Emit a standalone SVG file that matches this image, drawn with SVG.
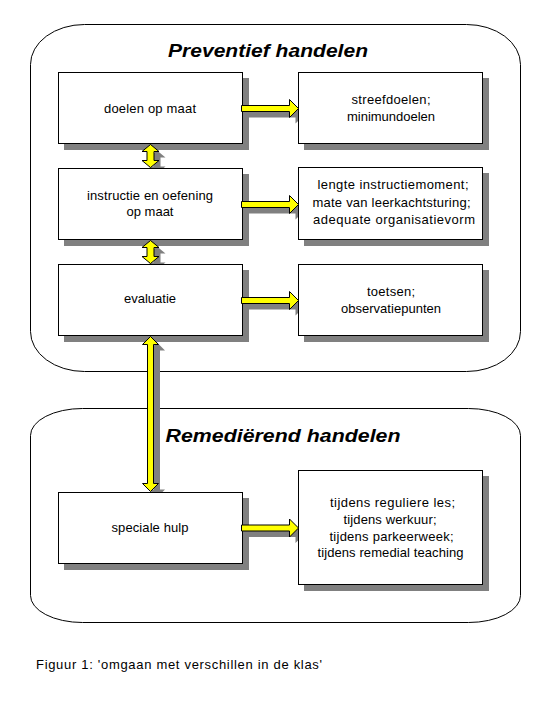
<svg xmlns="http://www.w3.org/2000/svg" width="545" height="709" viewBox="0 0 545 709">
<style>
.frame{fill:none;stroke:#000;stroke-width:1}
.box{fill:#fff;stroke:#000;stroke-width:1}
.shadow{fill:#808080;stroke:none}
.arrow{fill:#ffff00;stroke:#000;stroke-width:1;stroke-linejoin:miter}
.t{font-family:"Liberation Sans",Arial,sans-serif;font-size:13px;fill:#000;text-anchor:middle}
.title{font-family:"Liberation Sans",Arial,sans-serif;font-size:19px;font-weight:bold;font-style:italic;fill:#000;text-anchor:middle}
.cap{font-family:"Liberation Sans",Arial,sans-serif;font-size:13px;fill:#000}
</style>
<defs>
<path id="harrow" d="M0,-3 H48 V-9 L57,0 L48,9 V3 H0 Z"/>
<path id="vsmall" d="M0,0.5 L8.5,7.5 H3.5 V16.5 H8.5 L0,23.5 L-8.5,16.5 H-3.5 V7.5 H-8.5 Z"/>
<path id="vbig" d="M0,0.5 L8,8.5 H3 V147.5 H8 L0,155.5 L-8,147.5 H-3 V8.5 H-8 Z"/>
</defs>
<rect width="545" height="709" fill="#fff"/>
<g id="frames">
<rect id="preventief" class="frame" x="30.5" y="24.5" width="490" height="347" rx="54" ry="40"/>
<rect id="remedierend" class="frame" x="30.5" y="408.5" width="490" height="214" rx="52" ry="27"/>
<text class="title" x="268" y="57" textLength="200" lengthAdjust="spacingAndGlyphs">Preventief handelen</text>
<text class="title" x="283" y="442" textLength="235" lengthAdjust="spacingAndGlyphs">Remediërend handelen</text>
</g>
<g id="shadows">
<rect class="shadow" x="64" y="78" width="185" height="72"/>
<rect class="shadow" x="64" y="174" width="185" height="72"/>
<rect class="shadow" x="64" y="270" width="185" height="72"/>
<rect class="shadow" x="64" y="498" width="185" height="72"/>
<rect class="shadow" x="304" y="78" width="185" height="72"/>
<rect class="shadow" x="304" y="173" width="185" height="73"/>
<rect class="shadow" x="304" y="270" width="185" height="72"/>
<rect class="shadow" x="304" y="476" width="185" height="115"/>
<use href="#harrow" class="shadow" transform="translate(247.5,114.5)"/>
<use href="#harrow" class="shadow" transform="translate(247.5,210.5)"/>
<use href="#harrow" class="shadow" transform="translate(247.5,306.5)"/>
<use href="#harrow" class="shadow" transform="translate(247.5,534)"/>
<use href="#vsmall" class="shadow" transform="translate(157,150)"/>
<use href="#vsmall" class="shadow" transform="translate(157,246)"/>
<use href="#vbig" class="shadow" transform="translate(157,342)"/>
</g>
<g id="doelen-op-maat">
<rect class="box" x="58.5" y="72.5" width="184" height="71"/>
<text class="t" x="150" y="113" textLength="92">doelen op maat</text>
</g>
<g id="instructie">
<rect class="box" x="58.5" y="168.5" width="184" height="71"/>
<text class="t" x="150" y="200" textLength="126">instructie en oefening</text>
<text class="t" x="150" y="216">op maat</text>
</g>
<g id="evaluatie">
<rect class="box" x="58.5" y="264.5" width="184" height="71"/>
<text class="t" x="150" y="303">evaluatie</text>
</g>
<g id="speciale-hulp">
<rect class="box" x="58.5" y="492.5" width="184" height="71"/>
<text class="t" x="150" y="532" textLength="77">speciale hulp</text>
</g>
<g id="streefdoelen">
<rect class="box" x="298.5" y="72.5" width="184" height="71"/>
<text class="t" x="391" y="104" textLength="79">streefdoelen;</text>
<text class="t" x="391" y="121" textLength="88">minimundoelen</text>
</g>
<g id="lengte">
<rect class="box" x="298.5" y="167.5" width="184" height="72"/>
<text class="t" x="393" y="189" textLength="151">lengte instructiemoment;</text>
<text class="t" x="391.5" y="206.5" textLength="158">mate van leerkachtsturing;</text>
<text class="t" x="394" y="224" textLength="162">adequate organisatievorm</text>
</g>
<g id="toetsen">
<rect class="box" x="298.5" y="264.5" width="184" height="71"/>
<text class="t" x="391" y="296" textLength="48">toetsen;</text>
<text class="t" x="391" y="313" textLength="100">observatiepunten</text>
</g>
<g id="tijdens">
<rect class="box" x="298.5" y="470.5" width="184" height="114"/>
<text class="t" x="392.5" y="506.5" textLength="125">tijdens reguliere les;</text>
<text class="t" x="390" y="523.5" textLength="93">tijdens werkuur;</text>
<text class="t" x="391.5" y="540.5" textLength="124">tijdens parkeerweek;</text>
<text class="t" x="390.5" y="557" textLength="146">tijdens remedial teaching</text>
</g>
<g id="connectors">
<use href="#harrow" class="arrow" transform="translate(241.5,108.5)"/>
<use href="#harrow" class="arrow" transform="translate(241.5,204.5)"/>
<use href="#harrow" class="arrow" transform="translate(241.5,300.5)"/>
<use href="#harrow" class="arrow" transform="translate(241.5,528)"/>
<use href="#vsmall" class="arrow" transform="translate(150.5,144)"/>
<use href="#vsmall" class="arrow" transform="translate(150.5,240)"/>
<use href="#vbig" class="arrow" transform="translate(150.5,336)"/>
</g>
<text class="cap" x="36" y="669" textLength="286">Figuur 1: 'omgaan met verschillen in de klas'</text>
</svg>
